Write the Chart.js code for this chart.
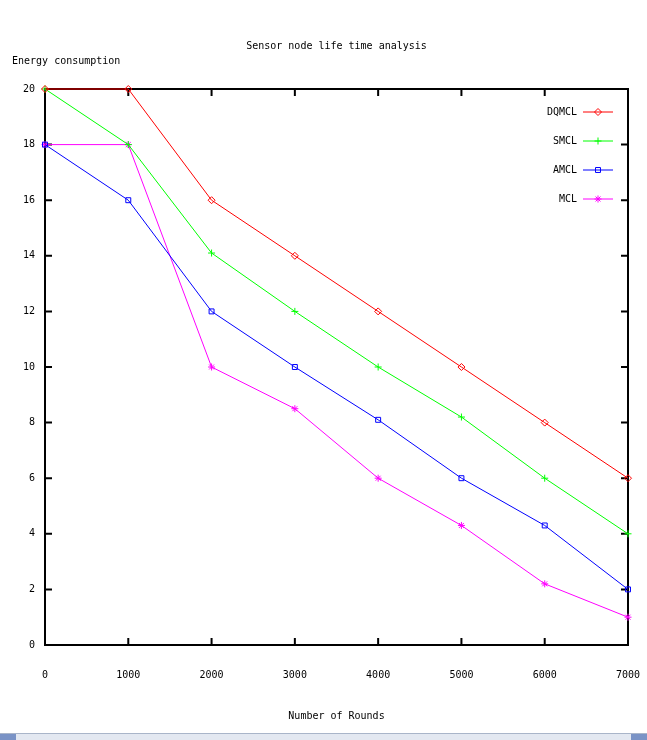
<!DOCTYPE html>
<html>
<head>
<meta charset="utf-8">
<script src="https://cdn.jsdelivr.net/npm/chart.js@4.4.1/dist/chart.umd.min.js"></script>
<style>
  body { margin: 0; background: #fff; }
  #wrap { position: relative; width: 647px; height: 740px; }
  #bar { position: absolute; left: 0; top: 733px; width: 647px; height: 7px; background: #e3e8f1;
         border-top: 1px solid #a9b5c9; box-sizing: border-box; }
  #bar:before, #bar:after { content: ""; position: absolute; top: 0; width: 16px; height: 6px; background: #7a93c6; }
  #bar:before { left: 0; }
  #bar:after { right: 0; }
</style>
</head>
<body>
<div id="wrap">
  <canvas id="c" width="647" height="740"></canvas>
  <div id="bar"></div>
</div>
<script>
// values
const rounds = [0, 1000, 2000, 3000, 4000, 5000, 6000, 7000];
const dqmcl = [20, 20, 16, 14, 12, 10, 8, 6];
const smcl  = [20, 18, 14.1, 12, 10, 8.2, 6, 4];
const amcl  = [18, 16, 12, 10, 8.1, 6, 4.3, 2];
const mcl   = [18, 18, 10, 8.5, 6, 4.3, 2.2, 1];

const seriesNames = ["DQMCL", "SMCL", "AMCL", "MCL"];
const seriesColors = ["#ff0000", "#00ff00", "#0000ff", "#ff00ff"];
const seriesPoints = ["rectRot", "cross", "rect", "star"];

const FAMILY = "'DejaVu Sans Mono', monospace";
Chart.defaults.font.family = FAMILY;
Chart.defaults.font.size = 10;
Chart.defaults.color = "#000";

const toXY = vals => vals.map((v, i) => ({ x: rounds[i], y: v }));

const datasets = [dqmcl, smcl, amcl, mcl].map((vals, i) => ({
  label: seriesNames[i],
  data: toXY(vals),
  borderColor: seriesColors[i],
  backgroundColor: "transparent",
  borderWidth: 1,
  pointStyle: seriesPoints[i],
  pointRadius: 3.5,
  pointBorderWidth: 1,
  pointBorderColor: seriesColors[i],
  pointBackgroundColor: "transparent",
  tension: 0,
  clip: false,
}));

// gnuplot style box, inner ticks, labels and legend
const gnuplotLook = {
  id: "gnuplotLook",
  beforeDatasetsDraw(chart) {
    const { ctx, chartArea: a, scales: { x, y } } = chart;
    ctx.save();
    ctx.strokeStyle = "#000";
    ctx.lineWidth = 2;
    ctx.strokeRect(a.left, a.top, a.right - a.left, a.bottom - a.top);
    ctx.beginPath();
    x.ticks.forEach(t => {
      const px = x.getPixelForValue(t.value);
      ctx.moveTo(px, a.bottom); ctx.lineTo(px, a.bottom - 7);
      ctx.moveTo(px, a.top); ctx.lineTo(px, a.top + 7);
    });
    y.ticks.forEach(t => {
      const py = y.getPixelForValue(t.value);
      ctx.moveTo(a.left, py); ctx.lineTo(a.left + 7, py);
      ctx.moveTo(a.right, py); ctx.lineTo(a.right - 7, py);
    });
    ctx.stroke();
    ctx.restore();
  },
  afterDraw(chart) {
    const { ctx, chartArea: a } = chart;
    ctx.save();
    ctx.fillStyle = "#000";
    ctx.font = "10px " + FAMILY;
    ctx.textBaseline = "middle";
    ctx.textAlign = "center";
    ctx.fillText("Sensor node life time analysis", (a.left + a.right) / 2, a.top - 43);
    ctx.textAlign = "left";
    ctx.fillText("Energy consumption", a.left - 33, a.top - 28);

    // legend
    chart.data.datasets.forEach((ds, i) => {
      const ly = a.top + 23 + i * 29;
      ctx.fillStyle = "#000";
      ctx.textAlign = "right";
      ctx.fillText(ds.label, a.right - 51, ly);
      ctx.strokeStyle = ds.borderColor;
      ctx.lineWidth = 1;
      ctx.beginPath();
      ctx.moveTo(a.right - 45, ly);
      ctx.lineTo(a.right - 15, ly);
      ctx.stroke();
      ctx.fillStyle = "transparent";
      Chart.helpers.drawPoint(ctx, { pointStyle: ds.pointStyle, radius: 3.5, rotation: 0, borderWidth: 1 },
        a.right - 30, ly);
    });
    ctx.restore();
  }
};

new Chart(document.getElementById("c"), {
  type: "line",
  data: { datasets },
  options: {
    responsive: false,
    animation: false,
    layout: { padding: { left: 0, right: 19, top: 89, bottom: 0 } },
    plugins: {
      legend: { display: false },
      tooltip: { enabled: false },
    },
    scales: {
      x: {
        type: "linear",
        min: 0,
        max: 7000,
        ticks: { stepSize: 1000, padding: 24, maxRotation: 0, callback: v => String(v) },
        grid: { display: false, drawTicks: false },
        border: { display: false },
        title: { display: true, text: "Number of Rounds", padding: { top: 0, bottom: 18 } },
        afterFit(scale) { scale.height = 95; scale.paddingLeft = 0; scale.paddingRight = 0; },
      },
      y: {
        min: 0,
        max: 20,
        ticks: { stepSize: 2, padding: 10 },
        grid: { display: false, drawTicks: false },
        border: { display: false },
        afterFit(scale) { scale.width = 45; scale.paddingTop = 0; scale.paddingBottom = 0; },
      },
    },
  },
  plugins: [gnuplotLook],
});
</script>
</body>
</html>
